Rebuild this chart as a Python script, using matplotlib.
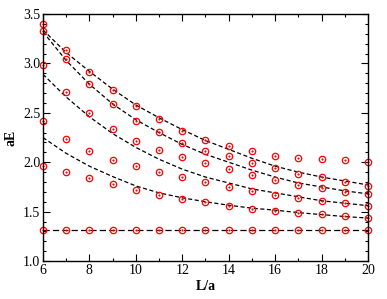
import numpy as np
import matplotlib
matplotlib.use("Agg")
import matplotlib.pyplot as plt
from matplotlib.ticker import MultipleLocator, FormatStrFormatter

plt.rcParams["font.family"] = ["Liberation Serif", "DejaVu Serif"]

# box sizes L/a
L = [6, 7, 8, 9, 10, 11, 12, 13, 14, 15, 16, 17, 18, 19, 20]

# measured levels aE (highest first)
E1 = [3.40, 3.135, 2.915, 2.73, 2.566, 2.44, 2.32, 2.225, 2.16, 2.11, 2.066, 2.04, 2.03, 2.02, 2.005]
E2 = [3.33, 3.04, 2.79, 2.59, 2.42, 2.31, 2.19, 2.117, 2.06, 1.99, 1.94, 1.883, 1.846, 1.80, 1.76]
E3 = [2.98, 2.71, 2.50, 2.34, 2.22, 2.12, 2.05, 1.99, 1.93, 1.87, 1.82, 1.77, 1.74, 1.70, 1.677]
E4 = [2.42, 2.24, 2.117, 2.025, 1.96, 1.90, 1.846, 1.80, 1.75, 1.71, 1.67, 1.637, 1.61, 1.585, 1.56]
E5 = [1.957, 1.90, 1.84, 1.78, 1.72, 1.67, 1.625, 1.595, 1.56, 1.53, 1.51, 1.484, 1.474, 1.457, 1.44]
E6 = [1.31, 1.31, 1.31, 1.31, 1.31, 1.31, 1.31, 1.31, 1.31, 1.31, 1.31, 1.31, 1.31, 1.31, 1.31]

# dashed curves
curveA = [3.34, 3.11, 2.92, 2.74, 2.58, 2.45, 2.33, 2.22, 2.13, 2.04, 1.96, 1.90, 1.85, 1.81, 1.77]
curveB = [3.32, 3.03, 2.79, 2.59, 2.43, 2.30, 2.18, 2.08, 2.00, 1.92, 1.85, 1.79, 1.75, 1.71, 1.68]
curveC = [2.89, 2.66, 2.46, 2.29, 2.15, 2.03, 1.93, 1.85, 1.79, 1.73, 1.69, 1.65, 1.61, 1.585, 1.56]
curveD = [2.25, 2.09, 1.96, 1.855, 1.76, 1.69, 1.64, 1.60, 1.565, 1.535, 1.515, 1.49, 1.47, 1.45, 1.435]
flat = [1.31, 1.31]
flat_L = [6, 20]

fig = plt.figure(figsize=(3.87, 2.99), dpi=100)
ax = fig.add_axes([0.111, 0.127, 0.840, 0.826])

for c in [curveA, curveB, curveC, curveD]:
    ax.plot(L, c, color="black", lw=0.9, ls=(0, (3.3, 2.0)), zorder=1)
ax.plot(flat_L, flat, color="black", lw=0.9, ls=(0, (5, 2.5)), zorder=1)

for E in [E1, E2, E3, E4, E5, E6]:
    ax.plot(L, E, ls="none", marker="o", ms=4.6, mfc="none", mec="red", mew=0.9,
            clip_on=False, zorder=2)
    ax.plot(L, E, ls="none", marker="o", ms=1.1, mfc="red", mec="red", mew=0.3,
            clip_on=False, zorder=2)

ax.set_xlim(6, 20)
ax.set_ylim(1.0, 3.5)
ax.xaxis.set_major_locator(MultipleLocator(2))
ax.xaxis.set_minor_locator(MultipleLocator(1))
ax.yaxis.set_major_locator(MultipleLocator(0.5))
ax.yaxis.set_minor_locator(MultipleLocator(0.1))
ax.yaxis.set_major_formatter(FormatStrFormatter("%.1f"))
ax.tick_params(which="both", direction="in", top=True, right=True, labelsize=10,
               width=0.8, colors="black", pad=2)
ax.tick_params(which="major", length=5)
ax.tick_params(which="minor", length=2.5)
for s in ax.spines.values():
    s.set_linewidth(1.0)

ax.set_xlabel("L/a", fontweight="bold", fontsize=10, labelpad=2)
ax.set_ylabel("aE", fontweight="bold", fontsize=10, labelpad=4)

fig.savefig("out.png", dpi=100)
